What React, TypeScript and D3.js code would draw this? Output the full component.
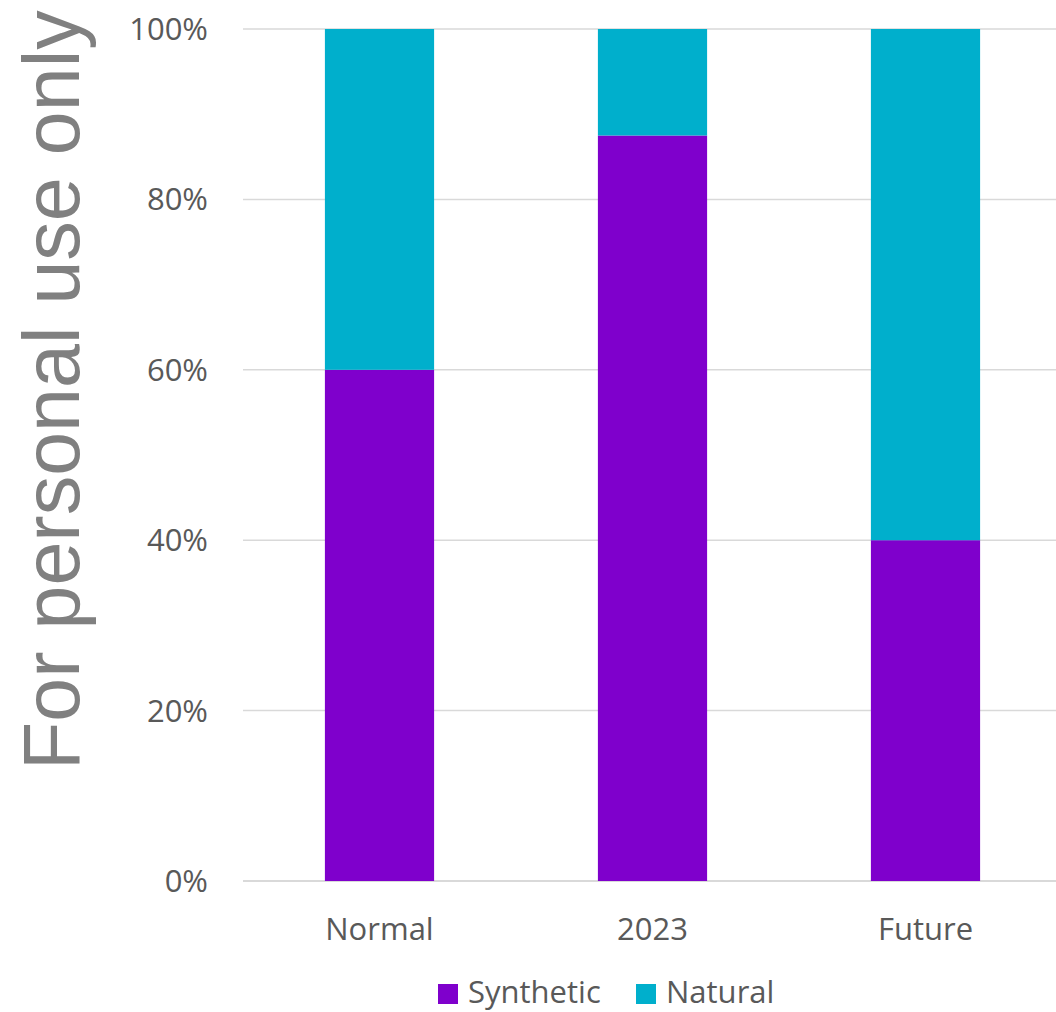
import React, { useEffect, useRef } from 'react';
import * as d3 from 'd3';

const categories = ['Normal', '2023', 'Future'];
const synthetic = [60, 87.5, 40];
const natural = [40, 12.5, 60];
const yTicks = [0, 20, 40, 60, 80, 100];
const seriesNames = ['Synthetic', 'Natural'];
const seriesColors = ['#7f00cc', '#00afcc'];

const WIDTH = 1056;
const HEIGHT = 1012;

export default function App() {
  const svgRef = useRef<SVGSVGElement>(null);

  useEffect(() => {
    if (!svgRef.current) return;
    const svg = d3.select(svgRef.current);
    svg.selectAll('*').remove();

    const font = '"Open Sans", sans-serif';
    const textColor = '#595959';
    const fontSize = '31px';

    const x = d3.scaleBand<string>()
      .domain(categories)
      .range([243, 1062])
      .paddingInner(0.6)
      .paddingOuter(0.3);

    const y = d3.scaleLinear().domain([0, 100]).range([881, 29]);

    // gridlines
    svg.selectAll('.grid')
      .data(yTicks)
      .enter()
      .append('line')
      .attr('x1', 243)
      .attr('x2', WIDTH)
      .attr('y1', d => y(d))
      .attr('y2', d => y(d))
      .attr('stroke', '#d9d9d9')
      .attr('stroke-width', d => (d === 0 ? 2 : 1.5));

    // tick labels
    svg.selectAll('.tick')
      .data(yTicks)
      .enter()
      .append('text')
      .attr('x', 208)
      .attr('y', d => y(d) + 11)
      .attr('text-anchor', 'end')
      .attr('fill', textColor)
      .attr('font-family', font)
      .attr('font-size', fontSize)
      .text(d => `${d}%`);

    const rows = categories.map((c, i) => ({ cat: c, values: [synthetic[i], natural[i]] }));

    // stacked bars
    rows.forEach(r => {
      let base = 0;
      r.values.forEach((v, si) => {
        svg.append('rect')
          .attr('x', x(r.cat) || 0)
          .attr('width', x.bandwidth())
          .attr('y', y(base + v))
          .attr('height', y(base) - y(base + v))
          .attr('fill', seriesColors[si]);
        base += v;
      });
    });

    // category labels
    svg.selectAll('.cat')
      .data(categories)
      .enter()
      .append('text')
      .attr('x', d => (x(d) || 0) + x.bandwidth() / 2)
      .attr('y', 940)
      .attr('text-anchor', 'middle')
      .attr('fill', textColor)
      .attr('font-family', font)
      .attr('font-size', fontSize)
      .text(d => d);

    // legend
    const legendX = [438, 636];
    seriesNames.forEach((name, i) => {
      svg.append('rect')
        .attr('x', legendX[i])
        .attr('y', 984)
        .attr('width', 20)
        .attr('height', 20)
        .attr('fill', seriesColors[i]);
      svg.append('text')
        .attr('x', legendX[i] + 30)
        .attr('y', 1003)
        .attr('fill', textColor)
        .attr('font-family', font)
        .attr('font-size', fontSize)
        .text(name);
    });

    // watermark
    svg.append('text')
      .attr('transform', 'translate(79,770) rotate(-90)')
      .attr('fill', '#808080')
      .attr('font-family', '"Liberation Sans", Arial, sans-serif')
      .attr('font-size', '79px')
      .text('For personal use only');
  }, []);

  return (
    <svg
      ref={svgRef}
      width={WIDTH}
      height={HEIGHT}
      style={{ display: 'block', position: 'absolute', left: 0, top: 0, background: '#fff' }}
    />
  );
}
